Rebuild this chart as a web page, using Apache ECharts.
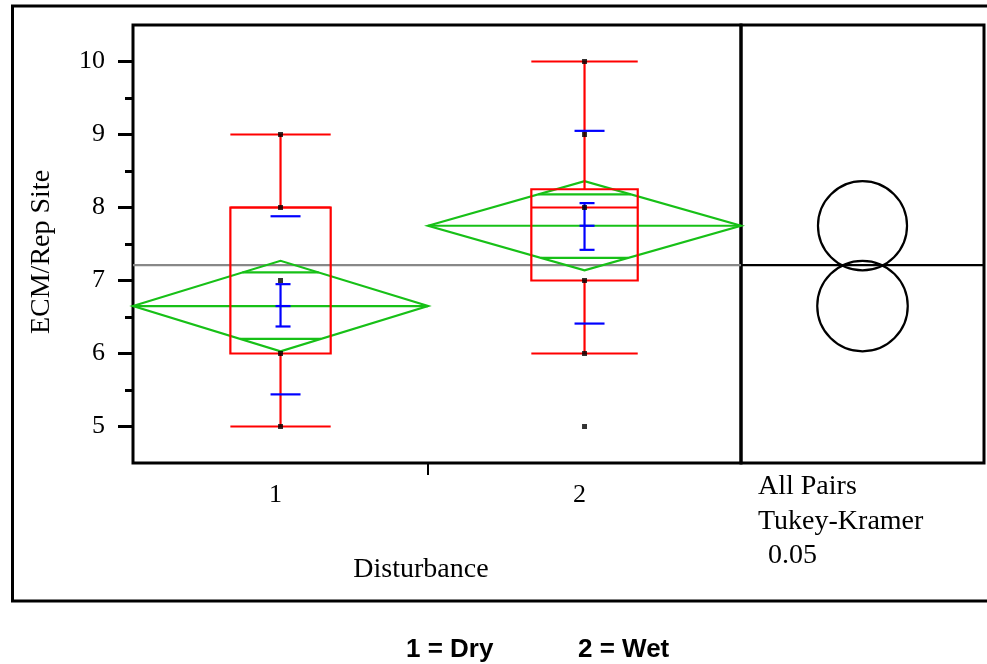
<!DOCTYPE html>
<html>
<head>
<meta charset="utf-8">
<script src="https://cdn.jsdelivr.net/npm/echarts@6.0.0/dist/echarts.min.js"></script>
<style>
html, body { margin: 0; padding: 0; background: #ffffff; }
#chart { width: 987px; height: 664px; }
</style>
</head>
<body>
<div id="chart"></div>
<script>
// ---- data ----
const groups = ['1', '2'];
const groupCounts = [33, 35];            // relative group sizes (diamond widths)
const obsGroup1 = [5, 6, 7, 8, 9];
const obsGroup2 = [5, 6, 7, 8, 9, 10];
const whiskerLow = [5, 6];
const quartile1 = [6, 7];
const medians = [8, 8];
const quartile3 = [8, 8.25];
const whiskerHigh = [9, 10];
const means = [6.65, 7.75];
const ciHalfWidth = [0.62, 0.61];
const overlapHigh = [7.11, 8.18];
const overlapLow = [6.20, 7.31];
const seLow = [6.37, 7.42];
const seHigh = [6.95, 8.06];
const sdLow = [5.44, 6.41];
const sdHigh = [7.88, 9.05];
const grandMean = 7.21;
const yMajorTicks = [5, 6, 7, 8, 9, 10];
const yMinorTicks = [5.5, 6.5, 7.5, 8.5, 9.5];
const yMin = 4.5, yMax = 10.5;
const legendTexts = ['1 = Dry', '2 = Wet'];
const comparisonTexts = ['All Pairs', 'Tukey-Kramer', ' 0.05'];

// ---- derived layout helpers ----
const total = groupCounts.reduce((a, b) => a + b, 0);
const groupStart = [];
let acc = 0;
groupCounts.forEach(c => { groupStart.push(acc); acc += c; });
const groupCenter = groupCounts.map((c, i) => groupStart[i] + c / 2);
const dividers = groupStart.slice(1);

const obsAll = [obsGroup1, obsGroup2];
const pointData = [];
obsAll.forEach((arr, g) => arr.forEach(v => pointData.push([groupCenter[g], v])));

const SERIF = '"Liberation Serif", "DejaVu Serif", serif';
const SANS = '"Liberation Sans", Arial, sans-serif';
const RED = '#ff0000', GREEN = '#17c017', BLUE = '#0000ff';

function line(x1, y1, x2, y2, color, w) {
  return { type: 'line', shape: { x1, y1, x2, y2 }, style: { stroke: color, lineWidth: w || 2.2 } };
}

function renderGroup(params, api) {
  const g = api.value(0);
  const start = groupStart[g], end = start + groupCounts[g], mid = groupCenter[g];
  const m = means[g], ci = ciHalfWidth[g];
  const Y = v => api.coord([mid, v])[1];
  const xl = api.coord([start, m])[0];
  const xr = api.coord([end, m])[0];
  const xc = api.coord([mid, m])[0];
  const halfW = (xr - xl) / 2;
  const boxHalf = halfW * 0.34;
  const ch = [];
  // green means diamond
  ch.push({ type: 'polygon', shape: { points: [[xl, Y(m)], [xc, Y(m + ci)], [xr, Y(m)], [xc, Y(m - ci)]] },
            style: { fill: 'none', stroke: GREEN, lineWidth: 2.2 } });
  ch.push(line(xl, Y(m), xr, Y(m), GREEN));
  [overlapHigh[g], overlapLow[g]].forEach(v => {
    const f = 1 - Math.abs(v - m) / ci;
    ch.push(line(xc - halfW * f, Y(v), xc + halfW * f, Y(v), GREEN));
  });
  // red box plot
  ch.push({ type: 'rect', shape: { x: xc - boxHalf, y: Y(quartile3[g]), width: 2 * boxHalf, height: Y(quartile1[g]) - Y(quartile3[g]) },
            style: { fill: 'none', stroke: RED, lineWidth: 2.2 } });
  ch.push(line(xc - boxHalf, Y(medians[g]), xc + boxHalf, Y(medians[g]), RED));
  ch.push(line(xc, Y(quartile3[g]), xc, Y(whiskerHigh[g]), RED));
  ch.push(line(xc, Y(quartile1[g]), xc, Y(whiskerLow[g]), RED));
  ch.push(line(xc - boxHalf, Y(whiskerHigh[g]), xc + boxHalf, Y(whiskerHigh[g]), RED));
  ch.push(line(xc - boxHalf, Y(whiskerLow[g]), xc + boxHalf, Y(whiskerLow[g]), RED));
  // blue mean / se / sd marks
  ch.push(line(xc, Y(seLow[g]), xc, Y(seHigh[g]), BLUE));
  [seLow[g], seHigh[g], m].forEach(v => ch.push(line(xc - 5, Y(v), xc + 10, Y(v), BLUE)));
  [sdLow[g], sdHigh[g]].forEach(v => ch.push(line(xc - 10, Y(v), xc + 20, Y(v), BLUE)));
  return { type: 'group', children: ch };
}

function renderCircle(params, api) {
  const g = api.value(0);
  const c = api.coord([0.5, means[g]]);
  const top = api.coord([0.5, means[g] + ciHalfWidth[g]]);
  const r = Math.abs(c[1] - top[1]);
  return { type: 'circle', shape: { cx: c[0], cy: c[1], r }, style: { fill: 'none', stroke: '#000', lineWidth: 2.2 } };
}

const chart = echarts.init(document.getElementById('chart'), null, { renderer: 'canvas' });

const option = {
  animation: false,
  backgroundColor: '#ffffff',
  grid: [
    { left: 133, top: 25, width: 608, height: 438, show: true, borderColor: '#000', borderWidth: 3, backgroundColor: 'transparent' },
    { left: 741, top: 25, width: 243, height: 438, show: true, borderColor: '#000', borderWidth: 3, backgroundColor: 'transparent' }
  ],
  xAxis: [
    {
      type: 'value', gridIndex: 0, min: 0, max: total, position: 'bottom',
      axisLine: { show: false }, splitLine: { show: false },
      axisTick: { show: true, customValues: dividers, length: 12, inside: false, lineStyle: { color: '#000', width: 2 } },
      axisLabel: {
        show: true, customValues: groupCenter, margin: 19, padding: [0, 10, 0, 0],
        color: '#000', fontFamily: SERIF, fontSize: 26,
        formatter: v => {
          let best = 0;
          groupCenter.forEach((c, i) => { if (Math.abs(c - v) < Math.abs(groupCenter[best] - v)) best = i; });
          return groups[best];
        }
      }
    },
    { type: 'value', gridIndex: 1, min: 0, max: 1, show: false }
  ],
  yAxis: [
    {
      type: 'value', gridIndex: 0, min: yMin, max: yMax, position: 'left',
      axisLine: { show: false }, splitLine: { show: false },
      axisTick: { show: true, customValues: yMajorTicks, length: 15, inside: false, lineStyle: { color: '#000', width: 3 } },
      axisLabel: { show: true, customValues: yMajorTicks, margin: 28, color: '#000', fontFamily: SERIF, fontSize: 26 }
    },
    {
      type: 'value', gridIndex: 0, min: yMin, max: yMax, position: 'left',
      axisLine: { show: false }, splitLine: { show: false },
      axisTick: { show: true, customValues: yMinorTicks, length: 8, inside: false, lineStyle: { color: '#000', width: 3 } },
      axisLabel: { show: false }
    },
    { type: 'value', gridIndex: 1, min: yMin, max: yMax, show: false }
  ],
  series: [
    {
      type: 'line', xAxisIndex: 0, yAxisIndex: 0, data: [[0, grandMean], [total, grandMean]],
      symbol: 'none', lineStyle: { color: '#888888', width: 2.2 }, silent: true, z: 1
    },
    {
      type: 'custom', xAxisIndex: 0, yAxisIndex: 0, clip: false,
      data: groups.map((g, i) => [i]), renderItem: renderGroup, silent: true, z: 2
    },
    {
      type: 'scatter', xAxisIndex: 0, yAxisIndex: 0, data: pointData,
      symbol: 'rect', symbolSize: 5, itemStyle: { color: '#000' }, silent: true, z: 5
    },
    {
      type: 'line', xAxisIndex: 1, yAxisIndex: 2, data: [[0, grandMean], [1, grandMean]],
      symbol: 'none', lineStyle: { color: '#000', width: 2.2 }, silent: true, z: 1
    },
    {
      type: 'custom', xAxisIndex: 1, yAxisIndex: 2, clip: false,
      data: groups.map((g, i) => [i]), renderItem: renderCircle, silent: true, z: 2
    }
  ],
  graphic: [
    { type: 'rect', shape: { x: 12.5, y: 6, width: 1000, height: 595 }, style: { fill: 'none', stroke: '#000', lineWidth: 3 }, silent: true },
    { type: 'text', x: 42, y: 252, rotation: Math.PI / 2,
      style: { text: 'ECM/Rep Site', font: '28px ' + SERIF, fill: '#000', textAlign: 'center', textVerticalAlign: 'middle' } },
    { type: 'text', x: 421, y: 570,
      style: { text: 'Disturbance', font: '28px ' + SERIF, fill: '#000', textAlign: 'center', textVerticalAlign: 'middle' } },
    { type: 'text', x: 758, y: 487,
      style: { text: comparisonTexts[0], font: '28px ' + SERIF, fill: '#000', textAlign: 'left', textVerticalAlign: 'middle' } },
    { type: 'text', x: 758, y: 522,
      style: { text: comparisonTexts[1], font: '28px ' + SERIF, fill: '#000', textAlign: 'left', textVerticalAlign: 'middle' } },
    { type: 'text', x: 761, y: 556,
      style: { text: comparisonTexts[2], font: '28px ' + SERIF, fill: '#000', textAlign: 'left', textVerticalAlign: 'middle' } },
    { type: 'text', x: 406, y: 650,
      style: { text: legendTexts[0], font: 'bold 26px ' + SANS, fill: '#000', textAlign: 'left', textVerticalAlign: 'middle' } },
    { type: 'text', x: 578, y: 650,
      style: { text: legendTexts[1], font: 'bold 26px ' + SANS, fill: '#000', textAlign: 'left', textVerticalAlign: 'middle' } }
  ]
};

chart.setOption(option);
</script>
</body>
</html>
